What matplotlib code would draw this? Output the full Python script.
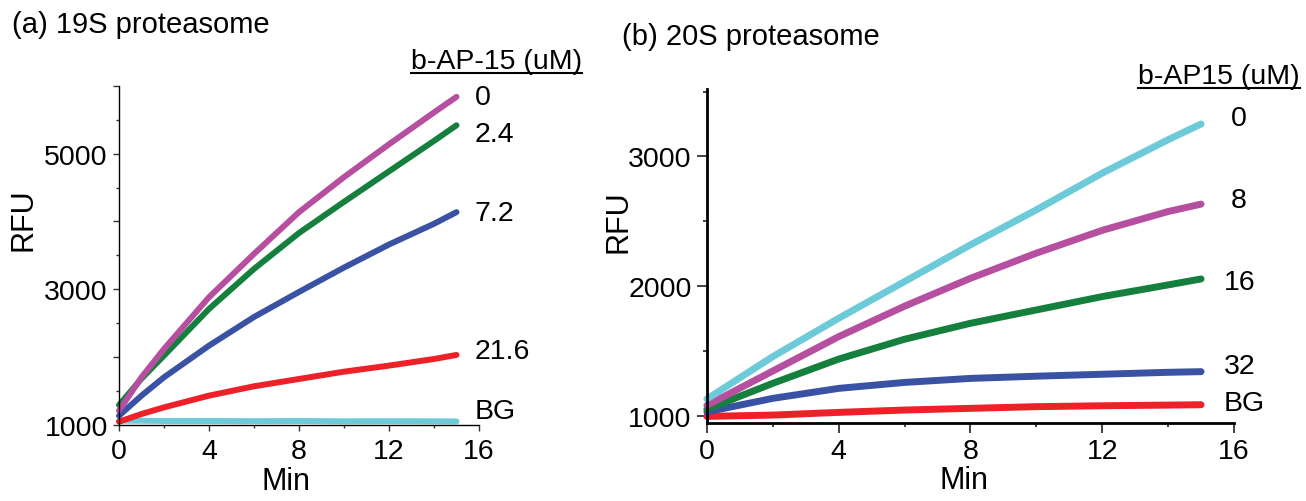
import matplotlib
matplotlib.use("Agg")
import matplotlib.pyplot as plt
from matplotlib.lines import Line2D

plt.rcParams['font.family'] = ['Liberation Sans', 'DejaVu Sans']

# (a) 19S proteasome
t_a = [0, 1, 2, 4, 6, 8, 10, 12, 14, 15]
a_0 = [1207, 1700, 2118, 2882, 3522, 4138, 4655, 5140, 5610, 5840]
a_24 = [1290, 1680, 2020, 2709, 3300, 3830, 4290, 4740, 5190, 5420]
a_72 = [1133, 1429, 1700, 2167, 2590, 2960, 3320, 3660, 3966, 4138]
a_216 = [1044, 1158, 1256, 1429, 1567, 1675, 1783, 1872, 1970, 2030]
a_bg = [1060, 1058, 1055, 1055, 1052, 1055, 1050, 1052, 1050, 1048]
labels_a = ["0", "2.4", "7.2", "21.6", "BG"]
label_y_a = [5842, 5297, 4129, 2089, 1203]

# (b) 20S proteasome
t_b = [0, 2, 4, 6, 8, 10, 12, 14, 15]
b_0 = [1129, 1456, 1752, 2035, 2318, 2588, 2871, 3129, 3250]
b_8 = [1080, 1345, 1610, 1845, 2060, 2254, 2430, 2575, 2632]
b_16 = [1050, 1250, 1437, 1590, 1713, 1816, 1919, 2009, 2055]
b_32 = [1030, 1134, 1211, 1257, 1288, 1305, 1320, 1335, 1340]
b_bg = [995, 1005, 1026, 1044, 1057, 1070, 1077, 1082, 1085]
labels_b = ["0", "8", "16", "32", "BG"]
label_y_b = [3299, 2666, 2033, 1384, 1098]
label_x_b = [15.9, 15.9, 15.68, 15.68, 15.68]

magenta = "#B64FA0"
green = "#15803D"
blue = "#3A52A4"
red = "#EE2028"
cyan = "#6CCAD9"

W, H = 1306, 502
fig = plt.figure(figsize=(W / 100, H / 100), dpi=100)

def frac(x0, y0, x1, y1):
    return [x0 / W, 1 - y1 / H, (x1 - x0) / W, (y1 - y0) / H]

ax1 = fig.add_axes(frac(119, 87, 479, 425.7))
ax2 = fig.add_axes(frac(706.9, 90, 1234, 424))

# panel a
for ys, c in [(a_bg, cyan), (a_216, red), (a_72, blue), (a_24, green), (a_0, magenta)]:
    ax1.plot(t_a, ys, color=c, lw=4.3, solid_capstyle='round', clip_on=False)
ax1.set_xlim(0, 16)
ax1.set_ylim(1000, 6000)
ax1.set_xticks([0, 4, 8, 12, 16])
ax1.set_xticks([2, 6, 10, 14], minor=True)
ax1.set_yticks([1000, 2000, 3000, 4000, 5000, 6000],
               labels=["1000", "", "3000", "", "5000", ""])
ax1.set_yticks([1500, 2500, 3500, 4500, 5500], minor=True)
for s in ['top', 'right']:
    ax1.spines[s].set_visible(False)
for s in ['left', 'bottom']:
    ax1.spines[s].set_linewidth(1.0)
ax1.tick_params(axis='both', which='major', labelsize=20.5, length=4.5, width=1.0, color='#333333')
ax1.tick_params(axis='both', which='minor', length=2.5, width=1.0, color='#333333')
ax1.tick_params(axis='y', which='major', pad=3.5)
ax1.tick_params(axis='x', which='major', pad=5)
ax1.set_ylabel("RFU", fontsize=22, va='center')
ax1.yaxis.set_label_coords(-0.265, 0.607)
ax1.set_xlabel("Min", fontsize=22, va='center')
ax1.xaxis.set_label_coords(0.464, -0.167)
for lab, y in zip(labels_a, label_y_a):
    ax1.text(15.8, y, lab, fontsize=20.5, va='center', ha='left', clip_on=False)

# panel b
for ys, c in [(b_bg, red), (b_32, blue), (b_16, green), (b_8, magenta), (b_0, cyan)]:
    ax2.plot(t_b, ys, color=c, lw=5, solid_capstyle='round', clip_on=False)
ax2.set_xlim(0, 16)
ax2.set_ylim(944, 3520)
ax2.set_xticks([0, 4, 8, 12, 16])
ax2.set_xticks([2, 6, 10, 14], minor=True)
ax2.set_yticks([1000, 2000, 3000])
ax2.set_yticks([1500, 2500, 3500], minor=True)
for s in ['top', 'right']:
    ax2.spines[s].set_visible(False)
for s in ['left', 'bottom']:
    ax2.spines[s].set_linewidth(2.0)
ax2.tick_params(axis='both', which='major', labelsize=20.5, length=7, width=1.2, color='#222222')
ax2.tick_params(axis='both', which='minor', length=3, width=1.2, color='#222222')
ax2.tick_params(axis='y', which='major', pad=4)
ax2.tick_params(axis='x', which='major', pad=3.5)
ax2.set_ylabel("RFU", fontsize=22, va='center')
ax2.yaxis.set_label_coords(-0.167, 0.605)
ax2.set_xlabel("Min", fontsize=22, va='center')
ax2.xaxis.set_label_coords(0.488, -0.172)
for lab, x, y in zip(labels_b, label_x_b, label_y_b):
    ax2.text(x, y, lab, fontsize=20.5, va='center', ha='left', clip_on=False)

# titles and underlined headers
fig.text(12 / W, 1 - 25 / H, "(a) 19S proteasome", fontsize=21, va='center', ha='left')
fig.text(622 / W, 1 - 37 / H, "(b) 20S proteasome", fontsize=21, va='center', ha='left')
h1 = fig.text(582 / W, 1 - 62 / H, "b-AP-15 (uM)", fontsize=20.5, va='center', ha='right')
h2 = fig.text(1300 / W, 1 - 77 / H, "b-AP15 (uM)", fontsize=20.5, va='center', ha='right')

fig.canvas.draw()
r = fig.canvas.get_renderer()
for h in (h1, h2):
    bb = h.get_window_extent(r)
    yy = (bb.y0 + 1) / H
    fig.add_artist(Line2D([bb.x0 / W, bb.x1 / W], [yy, yy], color='black', lw=1.5))

fig.savefig("out.png", dpi=100)
